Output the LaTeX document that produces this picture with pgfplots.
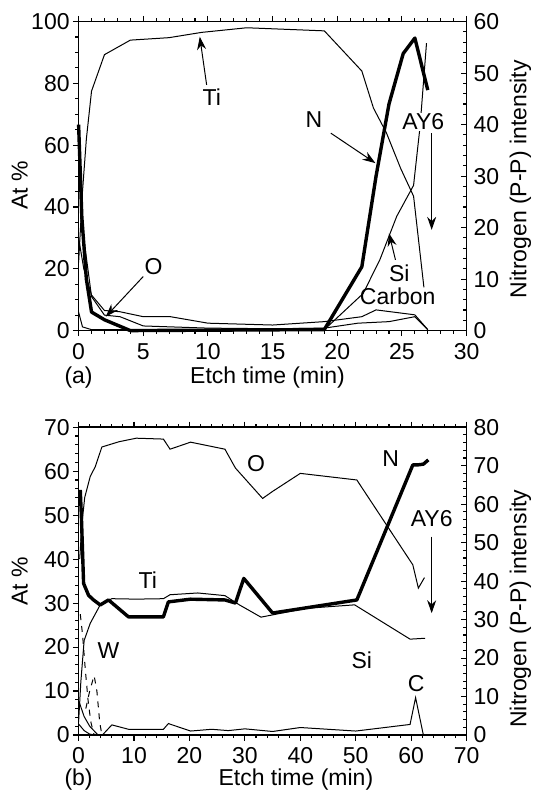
\documentclass[border=0pt]{standalone}
\usepackage{fontspec}
\setmainfont{Liberation Sans}
\usepackage{pgfplots}
\pgfplotsset{compat=1.18}
\usetikzlibrary{arrows.meta}

\tikzset{
  lthin/.style={black, line width=0.5pt},
  lthick/.style={black, line width=1.7pt, line join=round},
  ann/.style={font=\fontsize{11.5}{13}\selectfont},
  arr/.style={-{Stealth[length=6.5pt,width=4.5pt]}, line width=0.5pt},
}
\pgfplotsset{
  profile/.style={
    scale only axis, width=194pt,
    tick align=outside, xtick pos=both, ytick pos=left,
    major tick length=2.8pt, minor tick length=1.6pt,
    every tick/.style={black, line width=0.55pt},
    axis line style={line width=0.75pt},
    tick label style={font=\fontsize{11.5}{13}\selectfont},
    yticklabel style={inner sep=1.5pt},
    label style={font=\fontsize{11.5}{13}\selectfont},
    /pgf/number format/assume math mode=true,
    clip=false,
  },
  nitro/.style={
    scale only axis, width=194pt,
    axis x line=none, axis y line*=right,
    tick align=inside, ytick pos=right,
    major tick length=2.8pt, minor tick length=1.6pt,
    every tick/.style={black, line width=0.55pt},
    axis line style={line width=0.75pt},
    tick label style={font=\fontsize{11.5}{13}\selectfont},
    label style={font=\fontsize{11.5}{13}\selectfont},
    /pgf/number format/assume math mode=true,
    clip=false,
  },
}

\begin{document}
\begin{tikzpicture}
\path[use as bounding box] (0,0) rectangle (266.5pt,395.5pt);

% ---------- (a) ----------
\begin{axis}[profile, at={(39.3pt,230.2pt)}, anchor=south west, height=154.5pt,
  xmin=0, xmax=30, ymin=0, ymax=100,
  xtick={0,5,...,30}, minor x tick num=4,
  ytick={0,20,...,100}, minor y tick num=3,
  xlabel={Etch time (min)}, ylabel={At \%},
  xlabel style={at={(axis description cs:0.487,-0.153)}, anchor=center},
  ylabel style={at={(axis description cs:-0.152,0.47)}, anchor=center},
]
% Ti
\addplot[lthin] coordinates {(0,22) (0.3,45) (0.6,62) (1,77.5) (2,89.3) (4,94) (7,94.8) (9.5,96.5) (13,98) (19,97) (21.9,84) (22.8,72) (23.8,64) (24.9,52.5) (25.9,43.5) (26.7,14)};
% O
\addplot[lthin] coordinates {(0,55) (0.4,30) (1,11) (2,5) (3.2,4.5) (5,1.5) (10,0.8) (15,0.6) (19,0.8) (21.6,2.4) (24,2.9) (26,4.5) (27,0.3)};
% Carbon
\addplot[lthin] coordinates {(0,30) (0.4,20) (1,11.5) (2,6.5) (3.2,6.1) (5,4.5) (7.1,4.5) (10,2.4) (15,1.8) (19,2.9) (21.9,4.5) (23,6.7) (26,5.1) (27,0.3)};
% Si
\addplot[lthin] coordinates {(0,6) (0.3,1.2) (1,0.3) (19,0.3) (22,12) (23.3,23) (24.6,37) (25.9,47) (26.4,66) (26.9,93)};
\node[ann] at (axis cs:10.3,75.7) {Ti};
\draw[arr] (axis cs:9.9,79.5) -- (axis cs:9.37,95.1);
\node[ann] at (axis cs:18.2,68.2) {N};
\draw[arr] (axis cs:19.5,63.9) -- (axis cs:22.95,54.2);
\node[ann, fill=white, inner sep=0.5pt] at (axis cs:26.65,67.6) {AY6};
\draw[arr] (axis cs:27.3,63.9) -- (axis cs:27.3,32.6);
\node[ann] at (axis cs:24.8,18.6) {Si};
\draw[arr] (axis cs:24.5,22.9) -- (axis cs:24.0,31.5);
\node[ann] at (axis cs:24.67,11) {Carbon};
\node[ann] at (axis cs:5.8,20.7) {O};
\draw[arr] (axis cs:5.0,17.5) -- (axis cs:2.1,4.5);
\node[font=\fontsize{11.5}{13}\selectfont] at (axis description cs:0,-0.153) {(a)};
\end{axis}
\begin{axis}[nitro, at={(39.3pt,230.2pt)}, anchor=south west, height=154.5pt,
  xmin=0, xmax=30, ymin=0, ymax=60,
  ytick={0,10,...,60}, minor y tick num=4,
  ylabel={Nitrogen (P-P) intensity},
  ylabel style={at={(axis description cs:1.139,0.49)}, anchor=center, rotate=0},
]
\addplot[lthick] coordinates {(0,40) (0.25,22) (0.6,10) (1,3.6) (2,2.1) (4,0) (19,0.2) (21.9,12.4) (23,30) (24,44) (25.1,53.8) (26,56.8) (27,46.7)};
\end{axis}

% ---------- (b) ----------
\begin{axis}[profile, at={(39.3pt,28pt)}, anchor=south west, height=153.9pt,
  xmin=0, xmax=70, ymin=0, ymax=70,
  xtick={0,10,...,70}, minor x tick num=4,
  ytick={0,10,...,70}, minor y tick num=4,
  xlabel={Etch time (min)}, ylabel={At \%},
  xlabel style={at={(axis description cs:0.56,-0.146)}, anchor=center},
  ylabel style={at={(axis description cs:-0.152,0.5)}, anchor=center},
]
% O
\addplot[lthin] coordinates {(0.2,40) (0.6,48) (1.1,54) (2.1,58.8) (3,61) (4.2,65.5) (7.3,66.7) (10.4,67.5) (15.3,67.3) (16.5,65) (20.2,66.6) (26.4,65) (28.3,60.7) (33.2,53.8) (35,55.4) (40,59.5) (50.2,58) (60.3,38.7) (61.3,33.4) (62.4,35.8)};
% Ti
\addplot[lthin] coordinates {(0,3) (0.4,12) (1,21.5) (2.1,25.4) (3.9,29.6) (6,31) (10.4,30.9) (15.3,31) (16.5,31.9) (21.5,32.3) (26.4,31.7) (29,29.6) (32.9,26.8) (41,28.8) (49.8,29.6) (59.8,21.8) (62.5,22)};
% W
\addplot[lthin, dashed] coordinates {(0.3,27.5) (0.7,23) (1.2,15) (1.7,8) (2.2,3) (2.8,0)};
\addplot[lthin, dashed] coordinates {(1.3,6) (2,10) (2.8,13.5) (3.3,10) (3.8,3) (4.2,0)};
% C
\addplot[lthin] coordinates {(0.1,7.5) (1,4.2) (2,2) (3.5,0) (4.3,0) (6,2.3) (9,1.3) (15.3,1.3) (16.2,2.6) (20.2,0.9) (24,1.3) (27,1) (30,1.4) (35,0.8) (40,1.7) (50,0.9) (59.8,2.4) (60.8,8.5) (62.2,0)};
\addplot[lthin] coordinates {(0,2.5) (1,1) (2,0.2) (3,0)};
\node[ann] at (axis cs:32,61.8) {O};
\node[ann] at (axis cs:56.3,62.9) {N};
\node[ann] at (axis cs:63.7,49.3) {AY6};
\draw[arr] (axis cs:63.7,45.1) -- (axis cs:63.7,27.7);
\node[ann] at (axis cs:12.5,35.3) {Ti};
\node[ann] at (axis cs:5.4,19.3) {W};
\node[ann] at (axis cs:51.1,17.1) {Si};
\node[ann] at (axis cs:60.9,11.8) {C};
\node[font=\fontsize{11.5}{13}\selectfont] at (axis description cs:0,-0.146) {(b)};
\end{axis}
\begin{axis}[nitro, at={(39.3pt,28pt)}, anchor=south west, height=153.9pt,
  xmin=0, xmax=70, ymin=0, ymax=80,
  ytick={0,10,...,80}, minor y tick num=4,
  ylabel={Nitrogen (P-P) intensity},
  ylabel style={at={(axis description cs:1.139,0.41)}, anchor=center, rotate=0},
]
\addplot[lthick] coordinates {(0.3,63.7) (0.5,57) (0.9,39.4) (1.8,36.3) (2.7,35.1) (3.9,33.8) (5.4,35.1) (9,30.7) (15.3,30.7) (16.2,34.6) (20.2,35.3) (26.4,35.1) (28.3,34.3) (29.8,40.7) (35,31.7) (50.2,35.1) (60.3,70.2) (61.2,70.2) (62.2,70.4) (63.1,71.5)};
\end{axis}
\end{tikzpicture}
\end{document}
